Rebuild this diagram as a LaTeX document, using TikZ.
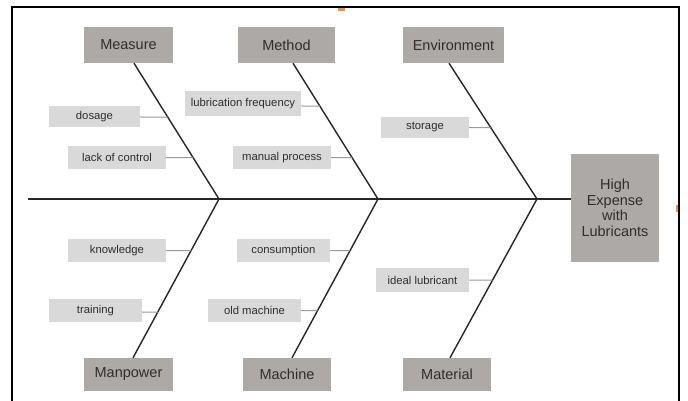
\documentclass[tikz,border=0pt]{standalone}
\usepackage{fontspec}
\setmainfont{Liberation Sans}
\definecolor{catgray}{HTML}{ADA9A6}
\definecolor{subgray}{HTML}{D9D9D9}
\definecolor{txtgray}{HTML}{2E2E2E}
\definecolor{conngray}{HTML}{999999}
\definecolor{orangemark}{HTML}{F0904A}
\tikzset{
  cat/.style={fill=catgray, text=txtgray, inner sep=0pt, font=\fontsize{14.5}{15}\selectfont, align=center},
  sub/.style={fill=subgray, text=txtgray, inner sep=0pt, minimum height=23pt, font=\fontsize{11.3}{12}\selectfont},
  bone/.style={line width=1.4pt, black!85},
  spine/.style={line width=2.8pt, black!85},
  twig/.style={line width=1pt, conngray},
  frameline/.style={line width=2.6pt, black}
}
\begin{document}
\begin{tikzpicture}[x=1pt,y=-1pt]
\useasboundingbox (0,0) rectangle (688,401);
\fill[white] (0,0) rectangle (688,401);
% frame
\draw[frameline] (12,401) -- (12,7) -- (679,7) -- (679,401);
\fill[orangemark] (338,8.5) rectangle (345,11);
\fill[orangemark] (675.5,205) rectangle (677.6,212);

% categories
\node[cat, minimum width=89pt, minimum height=36pt] (measure) at (128.5,45) {Measure};
\node[cat, minimum width=97pt, minimum height=36pt] (method) at (286.5,45) {Method};
\node[cat, minimum width=101pt, minimum height=36pt] (environment) at (453.5,45) {Environment};
\node[cat, minimum width=89pt, minimum height=33pt] (manpower) at (128.5,374.5) {Manpower};
\node[cat, minimum width=88pt, minimum height=33pt] (machine) at (287,374.5) {Machine};
\node[cat, minimum width=88pt, minimum height=33pt] (material) at (447,374.5) {Material};
\node[cat, minimum width=88pt, minimum height=108pt, font=\fontsize{14.5}{15.5}\selectfont] (effect) at (615,208) {High\\Expense\\with\\Lubricants};

% spine junctions
\coordinate (s0) at (28,199);
\coordinate (j1) at (219,199);
\coordinate (j2) at (378,199);
\coordinate (j3) at (537,199);
\coordinate (mt) at ([xshift=5.5pt]measure.south);
\coordinate (tt) at ([xshift=6.5pt]method.south);
\coordinate (et) at ([xshift=-4.5pt]environment.south);
\coordinate (pb) at ([xshift=4.5pt]manpower.north);
\coordinate (cb) at ([xshift=5pt]machine.north);
\coordinate (lb) at ([xshift=3pt]material.north);

\draw[spine] (s0) -- (effect.west |- s0);
\draw[bone] (mt) -- (j1) -- (pb);
\draw[bone] (tt) -- (j2) -- (cb);
\draw[bone] (et) -- (j3) -- (lb);

% sub causes
\node[sub, minimum width=91pt, minimum height=21pt] (dosage) at (94.5,117) {dosage};
\node[sub, minimum width=98pt] (lack) at (117,157.5) {lack of control};
\node[sub, minimum width=116pt, minimum height=25pt] (lubfreq) at (243,104) {lubrication frequency};
\node[sub, minimum width=98pt] (manual) at (282,157.5) {manual process};
\node[sub, minimum width=88pt, minimum height=21pt] (storage) at (425,127.5) {storage};
\node[sub, minimum width=98pt] (knowledge) at (117,250.5) {knowledge};
\node[sub, minimum width=93pt] (training) at (95.5,310.5) {training};
\node[sub, minimum width=93pt] (consumption) at (283.5,250.5) {consumption};
\node[sub, minimum width=93pt] (oldmachine) at (254.5,310.5) {old machine};
\node[sub, minimum width=93pt, minimum height=24pt] (ideal) at (422.5,280) {ideal lubricant};

\draw[twig] (dosage.east) -- (intersection of dosage.west--dosage.east and mt--j1);
\draw[twig] (lack.east) -- (intersection of lack.west--lack.east and mt--j1);
\draw[twig] ([yshift=-2pt]lubfreq.east) -- (intersection of {[yshift=-2pt]lubfreq.west}--{[yshift=-2pt]lubfreq.east} and tt--j2);
\draw[twig] (manual.east) -- (intersection of manual.west--manual.east and tt--j2);
\draw[twig] (storage.east) -- (intersection of storage.west--storage.east and et--j3);
\draw[twig] (knowledge.east) -- (intersection of knowledge.west--knowledge.east and j1--pb);
\draw[twig] ([yshift=-1.5pt]training.east) -- (intersection of {[yshift=-1.5pt]training.west}--{[yshift=-1.5pt]training.east} and j1--pb);
\draw[twig] (consumption.east) -- (intersection of consumption.west--consumption.east and j2--cb);
\draw[twig] (oldmachine.east) -- (intersection of oldmachine.west--oldmachine.east and j2--cb);
\draw[twig] (ideal.east) -- (intersection of ideal.west--ideal.east and j3--lb);
\end{tikzpicture}
\end{document}
